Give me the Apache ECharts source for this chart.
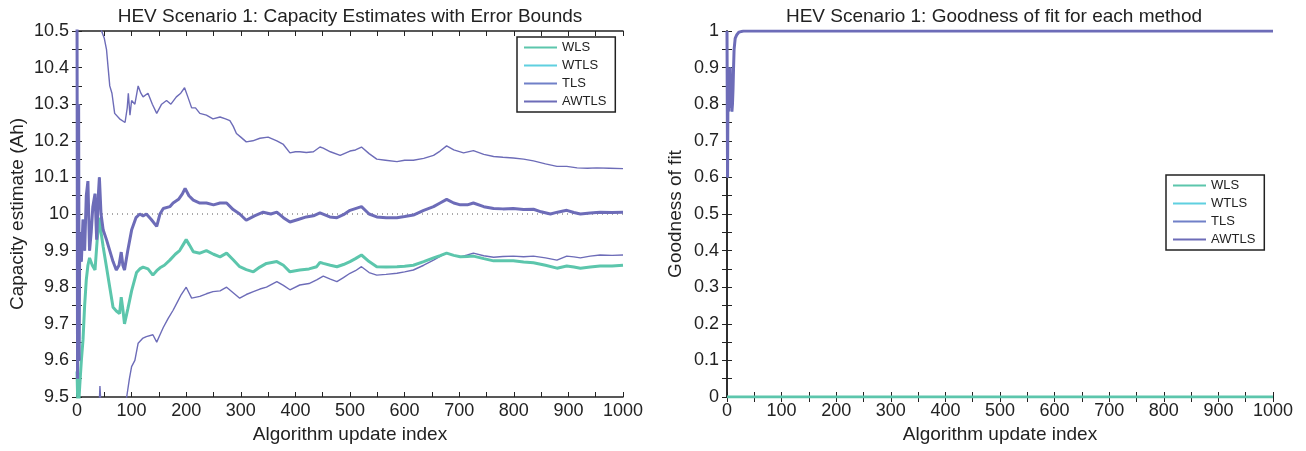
<!DOCTYPE html>
<html>
<head>
<meta charset="utf-8">
<script src="https://cdn.jsdelivr.net/npm/echarts@6.0.0/dist/echarts.min.js"></script>
<style>
  html, body { margin: 0; padding: 0; background: #fff; }
  #chart { width: 1306px; height: 451px; }
</style>
</head>
<body>
<div id="chart"></div>
<script>
// capacity estimate, [update index, Ah]
var wlsCap = [[0,9.57],[2,9.45],[5,9.53],[8,9.6],[11,9.656],[14,9.75],[17,9.82],[20,9.86],[23,9.88],[28,9.86],[33,9.847],[37,9.93],[41,9.99],[44,9.95],[48,9.91],[54,9.855],[60,9.80],[66,9.745],[72,9.735],[78,9.728],[81,9.773],[84,9.74],[87,9.70],[93,9.74],[100,9.79],[109,9.84],[115,9.85],[121,9.855],[130,9.85],[139,9.833],[146,9.845],[152,9.853],[160,9.86],[170,9.874],[180,9.89],[188,9.9],[194,9.915],[200,9.93],[206,9.915],[213,9.897],[225,9.893],[237,9.9],[250,9.89],[262,9.883],[274,9.893],[286,9.875],[298,9.856],[310,9.848],[323,9.842],[335,9.855],[347,9.865],[366,9.87],[378,9.86],[390,9.842],[408,9.847],[425,9.85],[439,9.856],[445,9.868],[451,9.865],[464,9.86],[476,9.856],[488,9.862],[500,9.87],[510,9.878],[521,9.888],[535,9.87],[549,9.856],[566,9.855],[586,9.856],[600,9.857],[616,9.86],[635,9.87],[653,9.88],[665,9.886],[677,9.893],[690,9.887],[702,9.883],[715,9.884],[726,9.885],[745,9.878],[763,9.872],[780,9.872],[799,9.872],[818,9.869],[836,9.867],[858,9.86],[879,9.852],[897,9.858],[910,9.855],[922,9.852],[940,9.855],[958,9.858],[980,9.858],[1000,9.86]];

var awtlsCap = [[0,10.6],[1,9.55],[2,9.9],[3,10.3],[4,9.6],[5,9.95],[8,9.87],[11,9.985],[14,9.9],[17,10.05],[20,10.09],[23,9.9],[26,9.95],[29,10.02],[33,10.055],[36,9.93],[39,10.05],[41,10.1],[44,10.0],[48,9.956],[54,9.93],[60,9.9],[66,9.87],[72,9.847],[77,9.86],[81,9.896],[84,9.86],[87,9.847],[93,9.9],[100,9.956],[108,9.99],[115,10.0],[121,9.995],[127,10.0],[136,9.985],[146,9.966],[152,10.0],[158,10.015],[170,10.02],[176,10.03],[186,10.04],[193,10.055],[198,10.07],[205,10.05],[213,10.038],[225,10.03],[237,10.03],[250,10.025],[262,10.03],[274,10.03],[286,10.012],[298,10.0],[310,9.983],[325,9.995],[341,10.005],[355,10.0],[366,10.005],[378,9.99],[390,9.978],[405,9.985],[420,9.992],[433,9.995],[445,10.003],[463,9.992],[476,9.99],[488,9.998],[500,10.01],[521,10.02],[535,10.0],[549,9.992],[566,9.99],[586,9.99],[600,9.993],[616,9.997],[635,10.01],[653,10.02],[665,10.03],[677,10.04],[690,10.03],[702,10.025],[715,10.025],[726,10.03],[745,10.02],[763,10.015],[780,10.014],[799,10.015],[818,10.012],[836,10.013],[850,10.006],[867,10.0],[880,10.005],[897,10.01],[910,10.004],[922,10.0],[940,10.003],[958,10.005],[980,10.004],[1000,10.005]];

// AWTLS error bounds
var awtlsUpper = [[0,11.2],[10,11.0],[20,10.85],[30,10.7],[40,10.56],[45,10.5],[50,10.48],[54,10.45],[57,10.40],[60,10.35],[64,10.33],[69,10.275],[78,10.26],[88,10.25],[92,10.29],[94,10.33],[97,10.27],[100,10.31],[106,10.30],[112,10.35],[117,10.33],[121,10.32],[130,10.33],[138,10.30],[146,10.275],[155,10.30],[164,10.31],[172,10.30],[182,10.32],[190,10.33],[197,10.345],[203,10.32],[210,10.29],[217,10.29],[225,10.275],[237,10.27],[249,10.26],[262,10.265],[272,10.26],[280,10.255],[286,10.24],[292,10.22],[300,10.21],[310,10.197],[322,10.20],[335,10.207],[350,10.21],[366,10.20],[378,10.19],[390,10.167],[400,10.17],[408,10.17],[420,10.168],[433,10.17],[445,10.183],[451,10.18],[464,10.17],[482,10.16],[500,10.172],[510,10.175],[521,10.183],[535,10.165],[549,10.15],[565,10.147],[586,10.143],[600,10.147],[616,10.147],[635,10.152],[653,10.16],[665,10.172],[677,10.186],[690,10.175],[708,10.167],[726,10.173],[745,10.163],[763,10.157],[780,10.155],[799,10.153],[818,10.15],[836,10.145],[858,10.137],[879,10.13],[897,10.13],[916,10.126],[935,10.125],[952,10.126],[975,10.125],[1000,10.124]];

var awtlsLower = [[0,8.5],[20,8.9],[35,9.3],[40,9.45],[42,9.53],[45,9.45],[60,9.35],[80,9.42],[91,9.5],[96,9.55],[100,9.583],[106,9.6],[112,9.647],[120,9.66],[127,9.665],[139,9.67],[146,9.65],[152,9.67],[158,9.69],[167,9.715],[176,9.737],[184,9.76],[191,9.78],[200,9.8],[205,9.785],[210,9.77],[225,9.775],[237,9.782],[249,9.788],[262,9.79],[274,9.8],[286,9.785],[298,9.77],[310,9.78],[323,9.788],[335,9.795],[347,9.8],[366,9.815],[378,9.805],[390,9.793],[408,9.806],[425,9.81],[439,9.82],[451,9.83],[464,9.822],[476,9.815],[488,9.826],[500,9.838],[510,9.845],[521,9.856],[535,9.84],[549,9.833],[566,9.835],[586,9.838],[600,9.842],[616,9.847],[635,9.86],[653,9.874],[665,9.884],[677,9.893],[690,9.887],[702,9.883],[715,9.888],[726,9.893],[745,9.886],[763,9.882],[780,9.884],[799,9.885],[818,9.883],[836,9.885],[858,9.88],[879,9.874],[897,9.885],[910,9.883],[922,9.88],[940,9.885],[958,9.888],[980,9.887],[1000,9.888]];

var refCapacity = [[0,10],[1000,10]];

// goodness of fit
var wlsFit = [[0,0],[1000,0]];
var awtlsFit = [[0,1],[1,0.6],[2,0.9],[3,0.78],[4,0.88],[5,0.79],[6,0.9],[7,0.8],[8,0.87],[9,0.78],[10,0.8],[11,0.84],[12,0.9],[13,0.95],[15,0.98],[18,0.99],[22,0.997],[30,1],[1000,1]];

var methods = ['WLS', 'WTLS', 'TLS', 'AWTLS'];

var FONT = '"Liberation Sans", Arial, sans-serif';
var INK = '#222';
var C_WLS = '#5cc6ac';
var C_WTLS = '#5fd0e0';
var C_TLS = '#7080c8';
var C_AWTLS = '#6d6cb8';

var chart = echarts.init(document.getElementById('chart'));

// ticks every half step, labels only on full steps (matlab style)
function everyOther(step) {
    return function(v) {
        var k = Math.round(v / (step / 2));
        if (k % 2 !== 0) return '';
        return String(Number(v.toFixed(1)));
    };
}

function xAxisOf(grid, top) {
    return {
        type: 'value', gridIndex: grid, position: top ? 'top' : 'bottom',
        min: 0, max: 1000, interval: 50,
        name: top ? '' : 'Algorithm update index', nameLocation: 'middle', nameGap: 28,
        nameTextStyle: { fontFamily: FONT, fontSize: 19, color: INK },
        axisLine: { lineStyle: { color: INK, width: 1.5 } },
        axisTick: { inside: true, length: 5, lineStyle: { color: INK } },
        axisLabel: { show: !top, fontFamily: FONT, fontSize: 18, color: INK, margin: 5, formatter: everyOther(100) },
        splitLine: { show: false }
    };
}
function yAxisOf(grid, right, min, max, name, gap) {
    return {
        type: 'value', gridIndex: grid, position: right ? 'right' : 'left',
        min: min, max: max, interval: 0.05,
        name: right ? '' : name, nameLocation: 'middle', nameGap: gap,
        nameTextStyle: { fontFamily: FONT, fontSize: 19, color: INK },
        axisLine: { show: true, lineStyle: { color: INK, width: 1.5 } },
        axisTick: { show: true, inside: true, length: 5, lineStyle: { color: INK } },
        axisLabel: { show: !right, fontFamily: FONT, fontSize: 18, color: INK, margin: 8, formatter: everyOther(0.1) },
        splitLine: { show: false }
    };
}
function line(name, xi, yi, data, color, width, z) {
    return {
        name: name, type: 'line', xAxisIndex: xi, yAxisIndex: yi, data: data,
        symbol: 'none', smooth: false, clip: true, z: z,
        lineStyle: { color: color, width: width }, itemStyle: { color: color }
    };
}
function legendBox(left, top) {
    return {
        data: methods, orient: 'vertical', left: left, top: top,
        padding: [4, 9, 4, 6], itemGap: 5, itemWidth: 33, itemHeight: 13,
        backgroundColor: '#fff', borderColor: INK, borderWidth: 1.5,
        itemStyle: { opacity: 0 },
        textStyle: { fontFamily: FONT, fontSize: 13, color: INK },
        selectedMode: false
    };
}

var option = {
    animation: false,
    title: [
        { text: 'HEV Scenario 1: Capacity Estimates with Error Bounds', left: 345, top: 2, textAlign: 'center',
          textStyle: { fontFamily: FONT, fontSize: 19, fontWeight: 'normal', color: INK } },
        { text: 'HEV Scenario 1: Goodness of fit for each method', left: 989, top: 2, textAlign: 'center',
          textStyle: { fontFamily: FONT, fontSize: 19, fontWeight: 'normal', color: INK } }
    ],
    legend: [legendBox(517, 37), legendBox(1166, 175)],
    grid: [
        { left: 77, top: 31, width: 546, height: 366 },
        { left: 727, top: 31, width: 546, height: 366 }
    ],
    xAxis: [xAxisOf(0, false), xAxisOf(0, true), xAxisOf(1, false), xAxisOf(1, true)],
    yAxis: [
        yAxisOf(0, false, 9.5, 10.5, 'Capacity estimate (Ah)', 50), yAxisOf(0, true, 9.5, 10.5),
        yAxisOf(1, false, 0, 1, 'Goodness of fit', 42), yAxisOf(1, true, 0, 1)
    ],
    series: [
        {
            name: 'ref', type: 'line', xAxisIndex: 0, yAxisIndex: 0, data: refCapacity,
            symbol: 'none', z: 1, lineStyle: { color: '#555', width: 1, type: [1, 4] }
        },
        line('WTLS', 0, 0, awtlsCap, C_WTLS, 1.2, 2),
        line('TLS', 0, 0, awtlsCap, C_TLS, 1.2, 2),
        line('AWTLS bound', 0, 0, awtlsUpper, C_AWTLS, 1.4, 3),
        line('AWTLS bound', 0, 0, awtlsLower, C_AWTLS, 1.4, 3),
        line('WLS', 0, 0, wlsCap, C_WLS, 3, 4),
        line('AWTLS', 0, 0, awtlsCap, C_AWTLS, 3, 5),

        line('WLS', 2, 2, wlsFit, C_WLS, 3, 4),
        line('WTLS', 2, 2, awtlsFit, C_WTLS, 1.2, 2),
        line('TLS', 2, 2, awtlsFit, C_TLS, 1.2, 2),
        line('AWTLS', 2, 2, awtlsFit, C_AWTLS, 3, 5)
    ]
};

chart.setOption(option);
</script>
</body>
</html>
